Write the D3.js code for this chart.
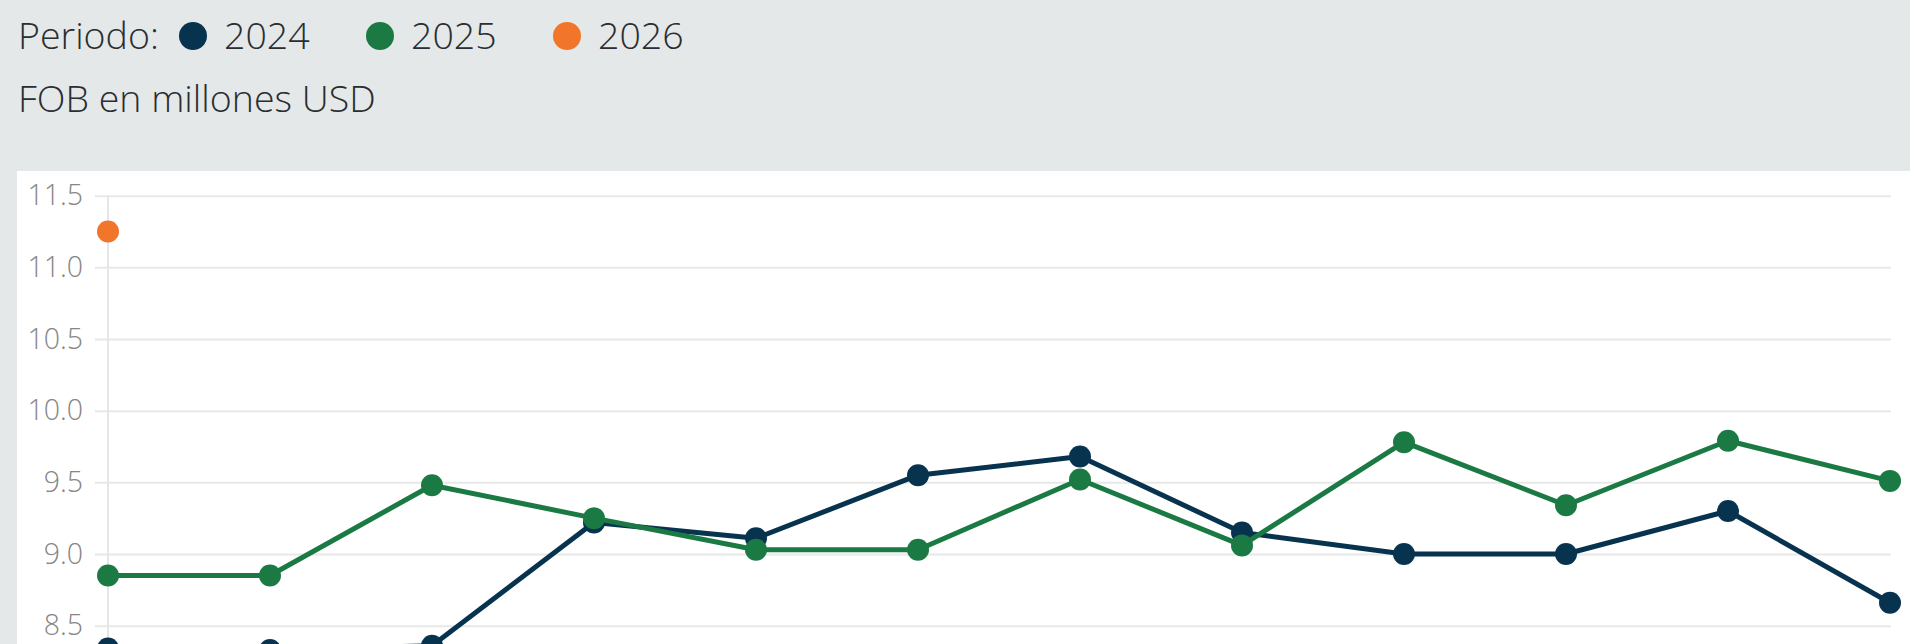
<!DOCTYPE html>
<html>
<head>
<meta charset="utf-8">
<script src="https://cdn.jsdelivr.net/npm/d3@7"></script>
<style>
  html, body { margin: 0; padding: 0; background: #e4e8e9; overflow: hidden; }
  svg { display: block; }
  text { font-family: "Open Sans", "Noto Sans", sans-serif; }
</style>
</head>
<body>
<svg id="chart" width="1910" height="644"></svg>
<script>
// Exportaciones mensuales, FOB en millones USD
const months = ["Ene", "Feb", "Mar", "Abr", "May", "Jun", "Jul", "Ago", "Sep", "Oct", "Nov", "Dic"];
const periods = ["2024", "2025", "2026"];
const values2024 = [8.34, 8.33, 8.36, 9.22, 9.11, 9.55, 9.68, 9.15, 9.00, 9.00, 9.30, 8.66];
const values2025 = [8.85, 8.85, 9.48, 9.25, 9.03, 9.03, 9.52, 9.06, 9.78, 9.34, 9.79, 9.51];
const values2026 = [11.25];
const yTicks = [8.5, 9.0, 9.5, 10.0, 10.5, 11.0, 11.5];
const colors = { "2024": "#08334f", "2025": "#1b7a44", "2026": "#f1752a" };

const seriesData = [
  { key: "2024", values: values2024 },
  { key: "2025", values: values2025 },
  { key: "2026", values: values2026 }
];

const svg = d3.select("#chart");
const W = 1910, H = 644;
const headFont = 37.5;

// header: legend and unit
const legend = svg.append("g").attr("class", "legend");
legend.append("text")
  .attr("x", 18).attr("y", 49)
  .attr("font-size", headFont).attr("font-weight", 300).attr("fill", "#2a2d31")
  .text("Periodo:");

const legendX = d3.scalePoint().domain(periods).range([193, 567]);
const item = legend.selectAll("g.item").data(periods).join("g")
  .attr("class", "item")
  .attr("transform", d => `translate(${legendX(d)},36)`);
item.append("circle").attr("r", 14).attr("fill", d => colors[d]);
item.append("text")
  .attr("x", 31).attr("y", 13)
  .attr("font-size", headFont).attr("font-weight", 300).attr("fill", "#2a2d31")
  .text(d => d);

svg.append("text")
  .attr("x", 18).attr("y", 112)
  .attr("font-size", headFont).attr("font-weight", 300).attr("fill", "#2a2d31")
  .text("FOB en millones USD");

// plot panel
svg.append("rect")
  .attr("x", 17).attr("y", 171)
  .attr("width", W - 17).attr("height", H)
  .attr("fill", "#ffffff");

const x = d3.scalePoint().domain(months).range([108, 1890]);
const y = d3.scaleLinear().domain([8, 11.5]).range([697.3, 195.7]);

// horizontal gridlines + tick labels
const yAxis = d3.axisLeft(y)
  .tickValues(yTicks)
  .tickFormat(d3.format(".1f"))
  .tickSize(-(1891 - 95))
  .tickPadding(12);

const gy = svg.append("g")
  .attr("transform", "translate(95,0)")
  .call(yAxis);
gy.select(".domain").remove();
gy.selectAll(".tick line").attr("stroke", "#e8e8e8").attr("stroke-width", 2);
gy.selectAll(".tick text")
  .attr("font-size", 28.5).attr("font-weight", 300).attr("fill", "#868686");

// vertical axis line at the first month
svg.append("line")
  .attr("x1", x(months[0])).attr("x2", x(months[0]))
  .attr("y1", y(11.5)).attr("y2", H)
  .attr("stroke", "#e6e6e6").attr("stroke-width", 2);

// lines and markers
const line = d3.line()
  .x((d, i) => x(months[i]))
  .y(d => y(d));

const series = svg.selectAll("g.series").data(seriesData).join("g")
  .attr("class", "series");

series.append("path")
  .attr("d", d => line(d.values))
  .attr("fill", "none")
  .attr("stroke", d => colors[d.key])
  .attr("stroke-width", 5)
  .attr("stroke-linejoin", "round");

series.selectAll("circle")
  .data(d => d.values.map((v, i) => ({ key: d.key, v, i })))
  .join("circle")
  .attr("cx", d => x(months[d.i]))
  .attr("cy", d => y(d.v))
  .attr("r", 11)
  .attr("fill", d => colors[d.key]);
</script>
</body>
</html>
